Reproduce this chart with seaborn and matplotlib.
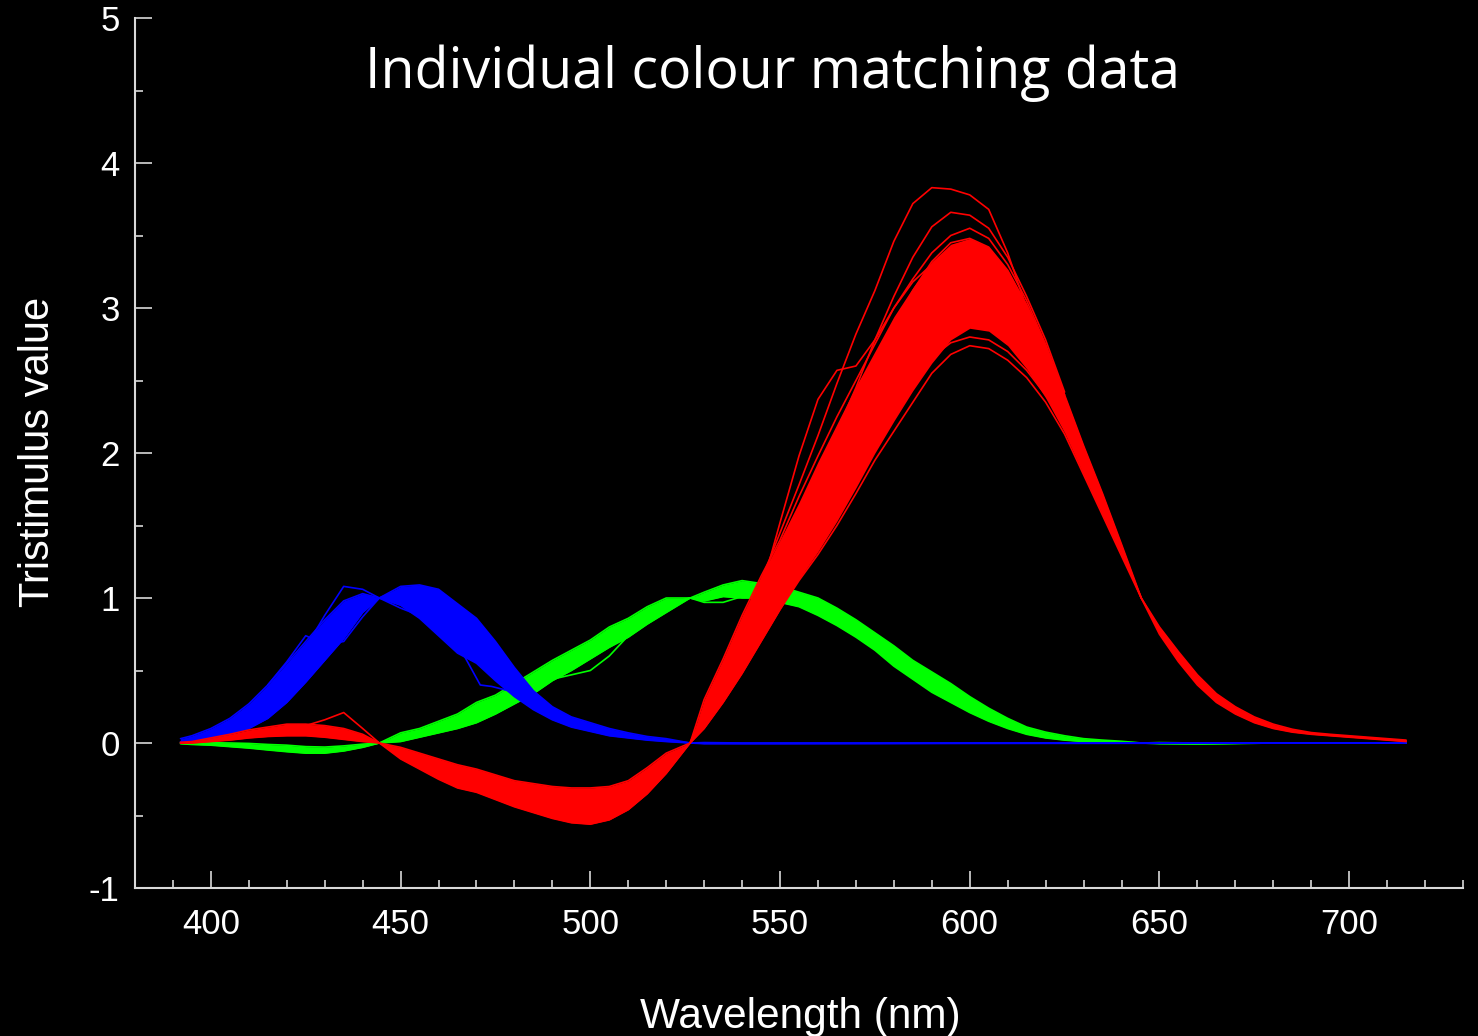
import numpy as np
import pandas as pd
import matplotlib
matplotlib.use("Agg")
import matplotlib.pyplot as plt
from matplotlib.ticker import MultipleLocator
import seaborn as sns

# ---------------- data ----------------
# Blue channel (b-bar): envelope of the observer bundle + mean
WL_BLUE = [392, 395, 400, 405, 410, 415, 420, 425, 430, 435, 440, 444.4,
           450, 455, 460, 465, 470, 475, 480, 485, 490, 495, 500, 505, 510, 515, 520, 526.3,
           530, 540, 550, 575, 600, 650, 700, 715]
BLUE_LO = [0.00, 0.01, 0.03, 0.06, 0.10, 0.17, 0.28, 0.42, 0.57, 0.72, 0.90, 1.00,
           0.95, 0.86, 0.74, 0.62, 0.55, 0.43, 0.32, 0.23, 0.16, 0.11, 0.08, 0.05, 0.035, 0.02, 0.01, 0.0,
           -0.005, -0.005, -0.005, -0.004, -0.003, -0.002, 0.0, 0.0]
BLUE_MID = [0.01, 0.02, 0.06, 0.11, 0.18, 0.28, 0.41, 0.57, 0.72, 0.87, 0.96, 1.00,
            1.02, 0.99, 0.92, 0.80, 0.70, 0.56, 0.42, 0.29, 0.20, 0.14, 0.10, 0.07, 0.05, 0.03, 0.02, 0.0,
            0.0, -0.002, -0.002, -0.002, -0.001, 0.0, 0.0, 0.0]
BLUE_HI = [0.03, 0.05, 0.10, 0.17, 0.27, 0.40, 0.55, 0.70, 0.85, 0.98, 1.03, 1.00,
           1.08, 1.09, 1.06, 0.96, 0.86, 0.70, 0.52, 0.36, 0.25, 0.18, 0.14, 0.10, 0.07, 0.045, 0.03, 0.0,
           0.003, 0.0, 0.0, 0.0, 0.0, 0.0, 0.0, 0.0]
# individual blue observers that leave the bundle
B1_WL = [415, 420, 425, 430, 435, 440, 444.4, 450, 455, 460, 465, 470, 475, 480]
B1 = [0.33, 0.48, 0.66, 0.88, 1.08, 1.06, 1.0, 0.93, 0.88, 0.80, 0.70, 0.60, 0.48, 0.38]
B2_WL = [415, 420, 425, 430, 435, 440, 444.4, 450, 455, 460, 465, 470, 475, 480, 485]
B2 = [0.40, 0.56, 0.74, 0.68, 0.70, 0.87, 1.0, 1.06, 1.08, 1.05, 0.95, 0.83, 0.66, 0.48, 0.34]
B3_WL = [455, 460, 465, 468, 471, 475, 480, 485, 490]
B3 = [1.04, 0.98, 0.88, 0.82, 0.80, 0.62, 0.44, 0.32, 0.22]
B4_WL = [460, 465, 467, 471, 474, 480, 485]
B4 = [0.80, 0.66, 0.59, 0.40, 0.39, 0.35, 0.28]

# Green channel (g-bar)
WL_GREEN = [392, 395, 400, 405, 410, 415, 420, 425, 430, 435, 440, 444.4,
            450, 455, 460, 465, 470, 475, 480, 485, 490, 495, 500, 505, 510, 515, 520, 526.3,
            530, 535, 540, 545, 550, 555, 560, 565, 570, 575, 580, 585, 590, 595, 600, 605,
            610, 615, 620, 625, 630, 635, 640, 645.2,
            650, 660, 680, 715]
GREEN_LO = [-0.005, -0.01, -0.015, -0.025, -0.035, -0.048, -0.06, -0.07, -0.07, -0.055, -0.03, 0.0,
            0.01, 0.04, 0.07, 0.10, 0.14, 0.20, 0.27, 0.34, 0.43, 0.50, 0.58, 0.66, 0.73, 0.82, 0.90, 1.0,
            0.98, 1.01, 1.00, 1.00, 0.97, 0.94, 0.88, 0.81, 0.73, 0.64, 0.53, 0.44, 0.35, 0.28, 0.21, 0.15,
            0.10, 0.06, 0.035, 0.02, 0.01, 0.004, 0.0, 0.0,
            -0.005, -0.008, 0.0, 0.0]
GREEN_MID = [0.0, -0.002, -0.005, -0.01, -0.018, -0.027, -0.035, -0.045, -0.045, -0.035, -0.018, 0.0,
             0.04, 0.07, 0.11, 0.15, 0.21, 0.27, 0.34, 0.42, 0.50, 0.57, 0.65, 0.73, 0.80, 0.88, 0.95, 1.0,
             1.01, 1.05, 1.06, 1.05, 1.03, 0.99, 0.94, 0.87, 0.79, 0.70, 0.60, 0.51, 0.42, 0.345, 0.27, 0.19,
             0.13, 0.085, 0.055, 0.035, 0.02, 0.012, 0.006, 0.0,
             0.0, -0.003, 0.0, 0.0]
GREEN_HI = [0.005, 0.003, 0.002, 0.0, -0.003, -0.01, -0.015, -0.025, -0.028, -0.02, -0.008, 0.0,
            0.07, 0.10, 0.15, 0.20, 0.28, 0.33, 0.41, 0.49, 0.57, 0.64, 0.71, 0.80, 0.86, 0.94, 1.00, 1.0,
            1.04, 1.09, 1.12, 1.10, 1.08, 1.04, 1.00, 0.93, 0.85, 0.76, 0.67, 0.57, 0.49, 0.41, 0.32, 0.24,
            0.17, 0.11, 0.075, 0.05, 0.03, 0.02, 0.012, 0.0,
            0.003, 0.0, 0.0, 0.0]
G1_WL = [475, 480, 485, 490, 495, 500, 505, 510, 515, 520, 526.3]
G1 = [0.23, 0.31, 0.39, 0.44, 0.47, 0.50, 0.60, 0.74, 0.84, 0.93, 1.0]
G2_WL = [520, 526.3, 530, 535, 540, 545, 550]
G2 = [0.96, 1.0, 0.97, 0.97, 1.01, 1.04, 1.03]

# Red channel (r-bar)
WL_RED = [392, 395, 400, 405, 410, 415, 420, 425, 430, 435, 440, 444.4,
          450, 455, 460, 465, 470, 475, 480, 485, 490, 495, 500, 505, 510, 515, 520, 526.3,
          530, 535, 540, 545, 550, 555, 560, 565, 570, 575, 580, 585, 590, 595, 600, 605,
          610, 615, 620, 625, 630, 635, 640, 645.2,
          650, 655, 660, 665, 670, 675, 680, 685, 690, 695, 700, 705, 710, 715]
# outer edges of the bundle (lowest / highest ordinary observer)
RED_LO = [0.0, 0.0, 0.01, 0.02, 0.035, 0.045, 0.05, 0.05, 0.04, 0.025, 0.01, 0.0,
          -0.11, -0.18, -0.25, -0.31, -0.34, -0.39, -0.44, -0.48, -0.52, -0.55, -0.56, -0.53, -0.46, -0.35, -0.21, 0.0,
          0.10, 0.28, 0.48, 0.70, 0.92, 1.12, 1.30, 1.50, 1.72, 1.95, 2.15, 2.35, 2.55, 2.68, 2.74, 2.72,
          2.64, 2.52, 2.35, 2.13, 1.85, 1.57, 1.29, 1.0,
          0.75, 0.56, 0.40, 0.28, 0.20, 0.14, 0.10, 0.075, 0.06, 0.05, 0.04, 0.03, 0.02, 0.01]
RED_MID = [0.0, 0.005, 0.02, 0.04, 0.06, 0.08, 0.09, 0.095, 0.085, 0.06, 0.03, 0.0,
           -0.07, -0.12, -0.17, -0.22, -0.26, -0.30, -0.35, -0.38, -0.42, -0.44, -0.44, -0.42, -0.37, -0.27, -0.15, 0.0,
           0.17, 0.38, 0.62, 0.86, 1.10, 1.33, 1.57, 1.83, 2.08, 2.35, 2.58, 2.82, 3.00, 3.12, 3.15, 3.08,
           2.92, 2.74, 2.50, 2.24, 1.93, 1.63, 1.32, 1.0,
           0.78, 0.60, 0.44, 0.32, 0.23, 0.16, 0.115, 0.085, 0.065, 0.055, 0.045, 0.035, 0.025, 0.015]
RED_HI = [0.005, 0.01, 0.035, 0.06, 0.09, 0.11, 0.13, 0.13, 0.12, 0.10, 0.06, 0.0,
          -0.03, -0.07, -0.11, -0.15, -0.18, -0.22, -0.26, -0.28, -0.30, -0.31, -0.31, -0.30, -0.26, -0.17, -0.07, 0.0,
          0.30, 0.58, 0.88, 1.15, 1.40, 1.70, 1.98, 2.25, 2.50, 2.75, 3.00, 3.20, 3.38, 3.50, 3.55, 3.48,
          3.30, 3.05, 2.75, 2.40, 2.05, 1.72, 1.37, 1.0,
          0.80, 0.63, 0.47, 0.34, 0.25, 0.18, 0.13, 0.095, 0.072, 0.06, 0.05, 0.04, 0.03, 0.02]
# dense core of the bundle (where the lines merge into solid colour)
RED_CORE_LO = [0.0, 0.0, 0.01, 0.02, 0.035, 0.045, 0.05, 0.05, 0.04, 0.025, 0.01, 0.0,
               -0.11, -0.18, -0.25, -0.31, -0.34, -0.39, -0.44, -0.48, -0.52, -0.55, -0.56, -0.53, -0.46, -0.35, -0.21, 0.0,
               0.10, 0.28, 0.48, 0.70, 0.92, 1.13, 1.32, 1.53, 1.76, 2.00, 2.22, 2.43, 2.62, 2.78, 2.86, 2.84,
               2.74, 2.58, 2.38, 2.14, 1.85, 1.57, 1.29, 1.0,
               0.75, 0.56, 0.40, 0.28, 0.20, 0.14, 0.10, 0.075, 0.06, 0.05, 0.04, 0.03, 0.02, 0.01]
RED_CORE_HI = [0.005, 0.01, 0.035, 0.06, 0.09, 0.11, 0.13, 0.13, 0.12, 0.10, 0.06, 0.0,
               -0.03, -0.07, -0.11, -0.15, -0.18, -0.22, -0.26, -0.28, -0.30, -0.31, -0.31, -0.30, -0.26, -0.17, -0.07, 0.0,
               0.30, 0.58, 0.88, 1.15, 1.40, 1.66, 1.94, 2.20, 2.46, 2.70, 2.94, 3.14, 3.32, 3.44, 3.48, 3.42,
               3.26, 3.03, 2.74, 2.40, 2.05, 1.72, 1.37, 1.0,
               0.80, 0.63, 0.47, 0.34, 0.25, 0.18, 0.13, 0.095, 0.072, 0.06, 0.05, 0.04, 0.03, 0.02]
R1_WL = [526.3, 530, 535, 540, 545, 550, 555, 560, 565, 570, 575, 580, 585, 590, 595, 600,
         605, 610, 615, 620, 625, 630, 635, 640, 645.2]
R1 = [0.0, 0.22, 0.50, 0.80, 1.12, 1.45, 1.78, 2.12, 2.48, 2.82, 3.12, 3.46, 3.72, 3.83, 3.82, 3.78,
      3.68, 3.38, 3.00, 2.60, 2.30, 1.97, 1.66, 1.34, 1.0]
R2_WL = [526.3, 530, 535, 540, 545, 550, 555, 560, 565, 570, 575, 580, 585, 590, 595, 600,
         605, 610, 615, 620]
R2 = [0.0, 0.20, 0.42, 0.66, 1.05, 1.52, 1.98, 2.37, 2.57, 2.60, 2.78, 3.00, 3.18, 3.30, 3.36, 3.35,
      3.25, 3.05, 2.80, 2.55]
R3_WL = [560, 565, 570, 575, 580, 585, 590, 595, 600, 605, 610, 615, 620, 625]
R3 = [1.85, 2.15, 2.45, 2.78, 3.08, 3.35, 3.56, 3.66, 3.64, 3.55, 3.35, 3.08, 2.78, 2.42]
R5_WL = [405, 410, 415, 420, 425, 430, 435, 440, 444.4]
R5 = [0.04, 0.07, 0.09, 0.11, 0.12, 0.16, 0.21, 0.10, 0.0]
R6_WL = [560, 565, 570, 575, 580, 585, 590, 595, 600, 605, 610, 615, 620, 625]
R6 = [1.40, 1.62, 1.85, 2.08, 2.30, 2.50, 2.66, 2.76, 2.80, 2.78, 2.70, 2.57, 2.40, 2.18]
R7_WL = [560, 565, 570, 575, 580, 585, 590, 595, 600, 605, 610, 615, 620, 625]
R7 = [1.80, 2.05, 2.32, 2.60, 2.88, 3.12, 3.32, 3.45, 3.48, 3.42, 3.26, 3.02, 2.74, 2.40]

TITLE = "Individual colour matching data"
XLABEL = "Wavelength (nm)"
YLABEL = "Tristimulus value"
XTICKS = [400, 450, 500, 550, 600, 650, 700]
YTICKS = [-1, 0, 1, 2, 3, 4, 5]

# ---------------- assemble long-form table ----------------
curves = [
    ("green", "band low", WL_GREEN, GREEN_LO), ("green", "mean", WL_GREEN, GREEN_MID),
    ("green", "band high", WL_GREEN, GREEN_HI), ("green", "obs G1", G1_WL, G1), ("green", "obs G2", G2_WL, G2),
    ("blue", "band low", WL_BLUE, BLUE_LO), ("blue", "mean", WL_BLUE, BLUE_MID),
    ("blue", "band high", WL_BLUE, BLUE_HI), ("blue", "obs B1", B1_WL, B1), ("blue", "obs B2", B2_WL, B2),
    ("blue", "obs B3", B3_WL, B3), ("blue", "obs B4", B4_WL, B4),
    ("red", "band low", WL_RED, RED_LO), ("red", "mean", WL_RED, RED_MID),
    ("red", "band high", WL_RED, RED_HI), ("red", "obs R1", R1_WL, R1), ("red", "obs R2", R2_WL, R2),
    ("red", "obs R3", R3_WL, R3), ("red", "obs R5", R5_WL, R5),
    ("red", "obs R6", R6_WL, R6), ("red", "obs R7", R7_WL, R7),
]
df = pd.concat([pd.DataFrame({"channel": c, "observer": f"{c} {o}", "wavelength": w, "value": v})
                for c, o, w, v in curves], ignore_index=True)

bands = {"green": (WL_GREEN, GREEN_LO, GREEN_HI),
         "blue": (WL_BLUE, BLUE_LO, BLUE_HI),
         "red": (WL_RED, RED_CORE_LO, RED_CORE_HI)}
colors = {"green": "#00FF00", "blue": "#0000FF", "red": "#FF0000"}

# ---------------- style ----------------
sns.set_theme(style="ticks")
plt.rcParams["font.family"] = ["Liberation Sans", "DejaVu Sans"]
plt.rcParams["axes.unicode_minus"] = False

fig = plt.figure(figsize=(14.78, 10.36), dpi=100, facecolor="black")
ax = fig.add_axes([135 / 1478, 1 - 888 / 1036, (1463 - 135) / 1478, (888 - 18) / 1036])
ax.set_facecolor("black")

z = 2.0
for ch in ["green", "blue", "red"]:
    wl, lo, hi = bands[ch]
    ax.fill_between(wl, lo, hi, color=colors[ch], lw=0, zorder=z)
    n0 = len(ax.lines)
    sns.lineplot(data=df[df["channel"] == ch], x="wavelength", y="value", units="observer",
                 estimator=None, color=colors[ch], lw=1.2, ax=ax, legend=False)
    for ln in ax.lines[n0:]:
        ln.set_zorder(z + 0.1)
        ln.set_solid_joinstyle("round")
    z += 0.2

ax.set_xlim(380, 730)
ax.set_ylim(-1, 5)
ax.set_xticks(XTICKS)
ax.set_yticks(YTICKS)
ax.set_xticklabels([str(t) for t in XTICKS])
ax.set_yticklabels([str(t) for t in YTICKS])
ax.xaxis.set_minor_locator(MultipleLocator(10))
ax.yaxis.set_minor_locator(MultipleLocator(0.5))
ax.set_xlabel("")
ax.set_ylabel("")

axis_col = "#d9d9d9"
for s in ["top", "right"]:
    ax.spines[s].set_visible(False)
for s in ["left", "bottom"]:
    ax.spines[s].set_color(axis_col)
    ax.spines[s].set_linewidth(1.5)
ax.tick_params(which="both", direction="in", color=axis_col, labelcolor="white",
               labelsize=25, width=1.2)
ax.tick_params(axis="x", which="both", pad=14.5)
ax.tick_params(axis="y", which="both", pad=11)
ax.tick_params(which="major", length=12)
ax.tick_params(which="minor", length=6)
ax.grid(False)

fig.text(772.5 / 1478, 1 - 88 / 1036, TITLE, ha="center", va="baseline", color="white",
         fontsize=40, family=["Open Sans", "DejaVu Sans"])
fig.text(800 / 1478, 1 - 1028 / 1036, XLABEL, ha="center", va="baseline", color="white",
         fontsize=30.5)
fig.text(38 / 1478, 1 - 452 / 1036, YLABEL, ha="center", va="center", rotation=90,
         color="white", fontsize=30)

fig.savefig("out.png", dpi=100, facecolor="black")
